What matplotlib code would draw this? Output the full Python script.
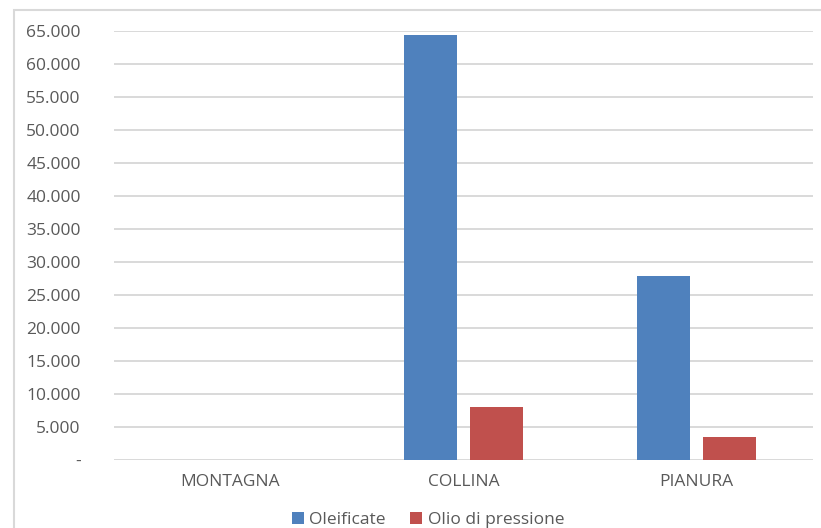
import matplotlib.pyplot as plt
import numpy as np
from matplotlib.patches import Rectangle
from matplotlib.ticker import FuncFormatter, MultipleLocator

categories = ["MONTAGNA", "COLLINA", "PIANURA"]
oleificate = [0, 64400, 27900]
olio_pressione = [0, 8050, 3500]
series_names = ["Oleificate", "Olio di pressione"]
colors = ["#4f81bd", "#c0504d"]

plt.rcParams["font.family"] = ["Open Sans", "DejaVu Sans"]
text_color = "#595959"
grid_color = "#d9d9d9"

W, H = 821, 528
fig = plt.figure(figsize=(W / 100, H / 100), dpi=100)
ax = fig.add_axes([114 / W, 1 - 460 / H, (813 - 114) / W, (460 - 31) / H])

# light frame round the chart, as in the spreadsheet export
fig.patches.append(Rectangle((14 / W, -0.1), 1.2, 1.1 - 10 / H,
                             transform=fig.transFigure, fill=False,
                             edgecolor=grid_color, linewidth=1.5))

x = np.arange(len(categories))
width = 0.228
offset = 0.142
ax.bar(x - offset, oleificate, width, color=colors[0], label=series_names[0], zorder=3)
ax.bar(x + offset, olio_pressione, width, color=colors[1], label=series_names[1], zorder=3)

ax.set_xlim(-0.5, len(categories) - 0.5)
ax.set_ylim(0, 65000)
ax.yaxis.set_major_locator(MultipleLocator(5000))


def fmt(v, pos):
    if v == 0:
        return "-"
    return f"{int(v):,}".replace(",", ".")


ax.yaxis.set_major_formatter(FuncFormatter(fmt))
ax.grid(axis="y", color=grid_color, linewidth=1.4, zorder=0)
for s in ax.spines.values():
    s.set_visible(False)
ax.tick_params(axis="both", length=0, colors=text_color, labelsize=12.5)
ax.tick_params(axis="y", pad=24)
ax.tick_params(axis="x", pad=10)
ax.set_xticks(x)
ax.set_xticklabels(categories)

fig.legend(loc="center", bbox_to_anchor=(428 / W, 1 - 520 / H), ncol=2,
           frameon=False, fontsize=12.5, handlelength=0.7, handleheight=0.7,
           handletextpad=0.3, columnspacing=1.4, labelcolor=text_color)

fig.savefig("out.png", dpi=100)
